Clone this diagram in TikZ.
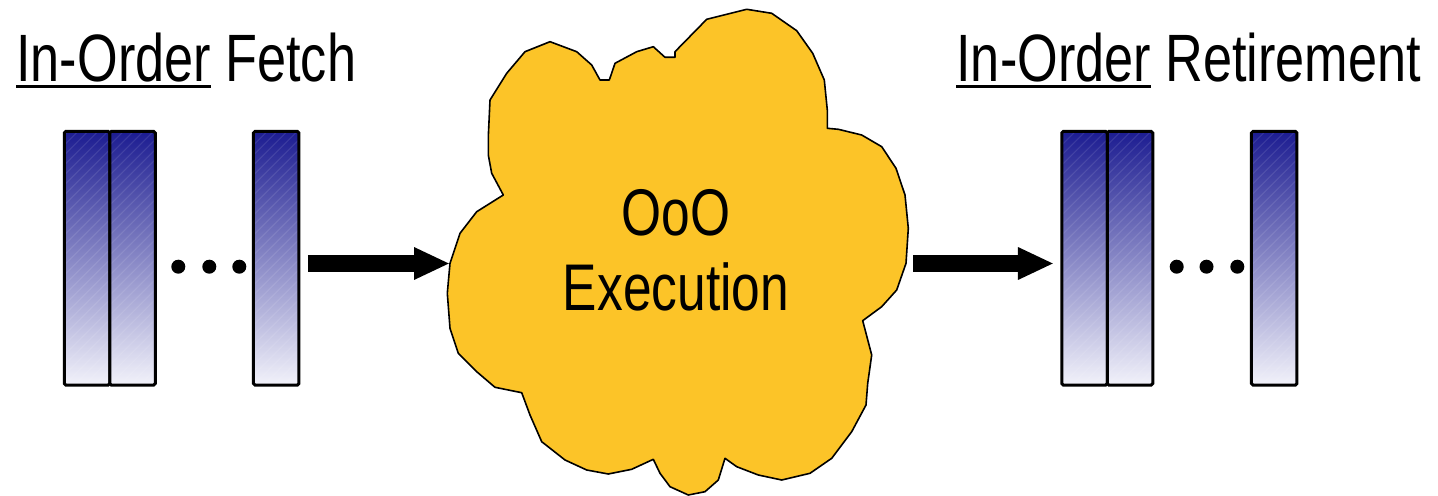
\documentclass[tikz,border=0pt]{standalone}
\usepackage{fontspec}
\setmainfont{Liberation Sans}[FakeStretch=0.78]
\usetikzlibrary{arrows.meta}
\definecolor{barTop}{RGB}{28,28,145}
\definecolor{barBottom}{RGB}{242,242,250}
\definecolor{cloudFill}{RGB}{252,196,40}
% underline drawn as a rule a little below the baseline
\newcommand\ulined[1]{\setbox0\hbox{#1}\rlap{\rule[-3.3pt]{\wd0}{1.6pt}}\box0\relax}

\begin{document}
\begin{tikzpicture}[x=0.5pt,y=-0.5pt,
  stagebar/.style={draw, line width=1.5pt, outer sep=0pt, inner sep=0pt,
    minimum width=22.75pt, minimum height=126.85pt,
    top color=barTop, bottom color=barBottom, rounded corners=0.8pt,
    path picture={
      \foreach \k in {-130,-125,...,25}
        \draw[white, opacity=0.1, line width=0.5pt]
          ([xshift=\k pt]path picture bounding box.south west) -- ++(140pt,140pt);
    }},
  dotmark/.style={circle, fill=black, inner sep=0pt, minimum size=7pt},
  flow/.style={line width=8.5pt, -{Triangle[length=18pt,width=15pt]}},
  title/.style={font=\fontsize{33.5}{40}\selectfont, inner sep=0pt, anchor=base west},
]
\useasboundingbox (0,0) rectangle (1438,496);
\fill[white] (0,0) rectangle (1438,496);

% titles
\node[title] (tfetch) at (16,81.7) {\ulined{In-Order} Fetch};
\node[title] (tretire) at (956,81.7) {\ulined{In-Order} Retirement};

% fetched instructions
\node[stagebar] (f1) at (87,258.3) {};
\node[stagebar] (f2) at (132.5,258.3) {};
\node[stagebar] (f3) at (276.2,258.3) {};
\node[dotmark] (fd1) at (178.3,266.7) {};
\node[dotmark] (fd2) at (209.3,266.7) {};
\node[dotmark] (fd3) at (239.3,266.7) {};

% retired instructions
\node[stagebar] (r1) at (1084.5,258.3) {};
\node[stagebar] (r2) at (1130,258.3) {};
\node[stagebar] (r3) at (1274.2,258.3) {};
\node[dotmark] (rd1) at (1176.7,266.7) {};
\node[dotmark] (rd2) at (1206.5,266.7) {};
\node[dotmark] (rd3) at (1237.3,266.7) {};

% out-of-order execution cloud
\draw[fill=cloudFill, line width=0.8pt, line join=round]
  (746.7,9.3) -- (771.7,13.3) -- (796.7,30.7) -- (812.7,53.3) -- (824.3,80)
  -- (827.3,110) -- (827.3,128.3) -- (838.3,129.3) -- (861.7,135) -- (881.7,146.7)
  -- (896,168.3) -- (905,195) -- (908.3,228.3) -- (906,263.3) -- (896.7,290)
  -- (881.7,306.7) -- (862.7,320.7) -- (871.7,355) -- (867.7,383.3) -- (866,405)
  -- (851.7,431.7) -- (831.7,458.3) -- (810,473.3) -- (781.7,480) -- (758.3,475)
  -- (736.7,466.7) -- (725,458.3) -- (718.3,480) -- (705,491.7) -- (688.3,495)
  -- (670,486.7) -- (660,473.3) -- (653.3,459.3) -- (631.7,469.3) -- (608.3,474)
  -- (586.7,470) -- (565,460) -- (541.7,441.7) -- (530,415) -- (521.7,392.7)
  -- (495,387.3) -- (476.7,371.7) -- (458.3,353.3) -- (450,328.3) -- (447.3,293.3)
  -- (450,263.3) -- (460,233.3) -- (476.7,211.7) -- (503.3,195) -- (491.7,173.3)
  -- (488.3,155) -- (488.3,136.7) -- (490,100) -- (506.7,73.3) -- (525,51.7)
  -- (550,41.7) -- (576.7,51.7) -- (591.7,65) -- (600,80) -- (609.3,80)
  -- (615,63.3) -- (636.7,51.7) -- (653.3,46.7) -- (665,57.3) -- (675,57.3)
  -- (675,51.7) -- (706.7,19.3) -- cycle;
\coordinate (cloudW) at (450,263.5);
\coordinate (cloudE) at (913,263.5);
\node[font=\fontsize{33}{37.5}\selectfont, align=center, inner sep=0pt] (exec) at (676,250) {OoO\\Execution};

% flow arrows
\draw[flow] ([xshift=4.5pt,yshift=-2.6pt]f3.east) -- (cloudW);
\draw[flow] (cloudE) -- ([xshift=-3.9pt,yshift=-2.6pt]r1.west);
\end{tikzpicture}
\end{document}
